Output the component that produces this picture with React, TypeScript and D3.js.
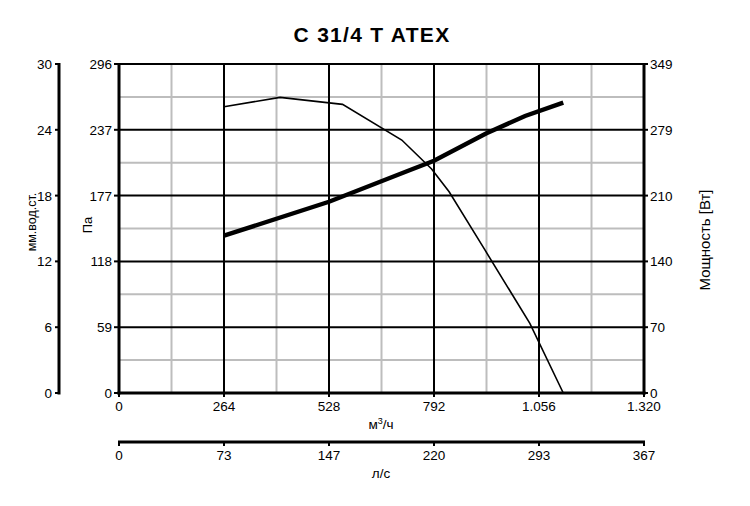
import * as d3 from 'd3';

// Axis tick labels
const flowTicks = [0, 264, 528, 792, 1056, 1320];
const flowLabels = ['0', '264', '528', '792', '1.056', '1.320'];
const lsLabels = ['0', '73', '147', '220', '293', '367'];
const paLabels = ['0', '59', '118', '177', '237', '296'];
const mmLabels = ['0', '6', '12', '18', '24', '30'];
const powerLabels = ['0', '70', '140', '210', '279', '349'];

// Pressure curve (Па) vs flow (м³/ч)
const pressureFlow = [264, 405, 562, 711, 786, 830, 920, 1033, 1117];
const pressureValues = [257.6, 266, 259.7, 227.6, 201.5, 181, 128.7, 62.7, 0];

// Power curve (Вт) vs flow (м³/ч)
const powerFlow = [264, 528, 732, 792, 924, 1021, 1117];
const powerValues = [166.9, 202.9, 236.6, 246.4, 275.5, 293.8, 308];

const W = 750;
const H = 506;
const left = 119;
const right = 644;
const top = 64;
const bottom = 393;
const ls2Y = 442;
const mmX = 59;
const font = '"Liberation Sans", Arial, sans-serif';

export default function App() {
  const x = d3.scaleLinear().domain([0, 1320]).range([left, right]);
  const yPa = d3.scaleLinear().domain([0, 296]).range([bottom, top]);
  const yW = d3.scaleLinear().domain([0, 349]).range([bottom, top]);
  const yStep = d3.scaleLinear().domain([0, 5]).range([bottom, top]);

  const pressurePts = pressureFlow.map((q, i) => [q, pressureValues[i]] as [number, number]);
  const powerPts = powerFlow.map((q, i) => [q, powerValues[i]] as [number, number]);

  const pressureLine = d3.line<[number, number]>()
    .x(d => x(d[0]))
    .y(d => yPa(d[1]));
  const powerLine = d3.line<[number, number]>()
    .x(d => x(d[0]))
    .y(d => yW(d[1]));

  const halfX = d3.range(0, 5).map(i => (flowTicks[i] + flowTicks[i + 1]) / 2);
  const halfY = d3.range(0, 5).map(i => i + 0.5);

  return (
    <svg width={W} height={H} style={{ position: 'absolute', left: 0, top: 0, background: '#fff' }} fontFamily={font}>
      <text x={372} y={42} textAnchor="middle" fontSize={21} fontWeight="bold" letterSpacing={1.3}>C 31/4 T ATEX</text>

      {/* gray minor grid */}
      <g stroke="#bdbdbd" strokeWidth={2}>
        {halfX.map(q => (
          <line key={'gx' + q} x1={x(q)} x2={x(q)} y1={top} y2={bottom} />
        ))}
        {halfY.map(s => (
          <line key={'gy' + s} x1={left} x2={right} y1={yStep(s)} y2={yStep(s)} />
        ))}
      </g>

      {/* black major grid */}
      <g stroke="#000" strokeWidth={2}>
        {flowTicks.slice(1, 5).map(q => (
          <line key={'bx' + q} x1={x(q)} x2={x(q)} y1={top} y2={bottom} />
        ))}
        {d3.range(1, 6).map(s => (
          <line key={'by' + s} x1={left} x2={right} y1={yStep(s)} y2={yStep(s)} />
        ))}
      </g>

      {/* curves */}
      <path d={pressureLine(pressurePts) || ''} fill="none" stroke="#000" strokeWidth={1.6} />
      <path d={powerLine(powerPts) || ''} fill="none" stroke="#000" strokeWidth={4.4} />

      {/* plot axes */}
      <g stroke="#000" strokeWidth={3}>
        <line x1={left} x2={left} y1={top - 1} y2={bottom + 1.5} />
        <line x1={right} x2={right} y1={top - 1} y2={bottom + 1.5} />
        <line x1={left - 1.5} x2={right + 1.5} y1={bottom} y2={bottom} />
        <line x1={mmX} x2={mmX} y1={top - 1} y2={bottom + 1.5} />
        <line x1={left - 1} x2={right + 1} y1={ls2Y} y2={ls2Y} />
      </g>

      {/* Pa axis */}
      <g fontSize={13.5} textAnchor="end">
        {paLabels.map((t, i) => (
          <g key={'pa' + i}>
            <line x1={left - 5} x2={left} y1={yStep(i)} y2={yStep(i)} stroke="#000" strokeWidth={2} />
            <text x={left - 7} y={yStep(i) + 5}>{t}</text>
          </g>
        ))}
      </g>
      <text transform={`translate(92,225) rotate(-90)`} fontSize={13} textAnchor="middle">Па</text>

      {/* mm axis */}
      <g fontSize={13.5} textAnchor="end">
        {mmLabels.map((t, i) => (
          <g key={'mm' + i}>
            <line x1={mmX - 4} x2={mmX} y1={yStep(i)} y2={yStep(i)} stroke="#000" strokeWidth={2} />
            <text x={mmX - 7} y={yStep(i) + 5}>{t}</text>
          </g>
        ))}
      </g>
      <text transform={`translate(36,222) rotate(-90)`} fontSize={12.5} textAnchor="middle">мм.вод.ст.</text>

      {/* power axis */}
      <g fontSize={13.5} textAnchor="start">
        {powerLabels.map((t, i) => (
          <g key={'w' + i}>
            <line x1={right} x2={right + 4} y1={yStep(i)} y2={yStep(i)} stroke="#000" strokeWidth={2} />
            <text x={right + 6} y={yStep(i) + 5}>{t}</text>
          </g>
        ))}
      </g>
      <text transform={`translate(710,240) rotate(-90)`} fontSize={15} textAnchor="middle">Мощность [Вт]</text>

      {/* flow axis m3/h */}
      <g fontSize={13.5} textAnchor="middle">
        {flowTicks.map((q, i) => (
          <g key={'fx' + i}>
            <line x1={x(q)} x2={x(q)} y1={bottom} y2={bottom + 4} stroke="#000" strokeWidth={2} />
            <text x={x(q)} y={bottom + 18}>{flowLabels[i]}</text>
          </g>
        ))}
      </g>
      <text x={381} y={429} fontSize={13.5} textAnchor="middle">
        м<tspan dy={-5} fontSize={9}>3</tspan><tspan dy={5}>/ч</tspan>
      </text>

      {/* flow axis l/s */}
      <g fontSize={13.5} textAnchor="middle">
        {flowTicks.map((q, i) => (
          <g key={'lx' + i}>
            <line x1={x(q)} x2={x(q)} y1={ls2Y} y2={ls2Y + 4} stroke="#000" strokeWidth={2} />
            <text x={x(q)} y={ls2Y + 18}>{lsLabels[i]}</text>
          </g>
        ))}
      </g>
      <text x={381} y={478} fontSize={13.5} textAnchor="middle">л/с</text>
    </svg>
  );
}
